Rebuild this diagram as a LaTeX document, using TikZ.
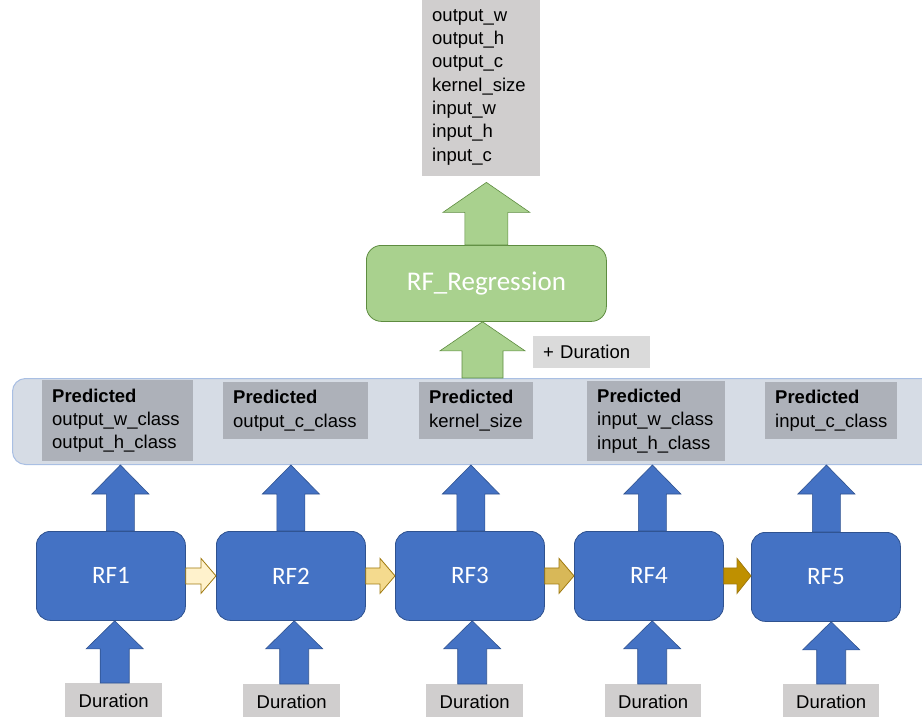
\documentclass[tikz,border=0pt]{standalone}
\usepackage{fontspec}
\setmainfont{Liberation Sans}
\newfontfamily\calfont{Carlito}
\usetikzlibrary{calc}

\definecolor{rfblue}{HTML}{4472C4}
\definecolor{rfblueline}{HTML}{2F528F}
\definecolor{reggreen}{HTML}{A9D18E}
\definecolor{reggreenline}{HTML}{5E8C40}
\definecolor{boxgray}{HTML}{D0CECE}
\definecolor{lightgray}{HTML}{DADADA}
\definecolor{predgray}{HTML}{ADB1B9}
\definecolor{bandfill}{HTML}{D6DCE5}
\definecolor{bandline}{HTML}{A9BFE3}
\definecolor{goldA}{HTML}{FFF2CC}
\definecolor{goldB}{HTML}{F4DA8E}
\definecolor{goldC}{HTML}{D8B858}
\definecolor{goldD}{HTML}{BF9000}
\definecolor{goldline}{HTML}{A07A10}

\tikzset{
  txt/.style={font=\fontsize{18.5}{23.3}\selectfont, text=black},
  rfbox/.style={draw=rfblueline, fill=rfblue, line width=0.8pt, rounded corners=14pt,
    minimum width=149pt, minimum height=89pt, inner sep=0pt, anchor=north west,
    text=white, font=\calfont\fontsize{25}{29}\selectfont},
  regbox/.style={draw=reggreenline, fill=reggreen, line width=0.8pt, rounded corners=15pt,
    minimum width=240pt, minimum height=76pt, inner sep=0pt, anchor=north west,
    text=white, font=\calfont\fontsize{27}{31}\selectfont},
  graybox/.style={txt, fill=boxgray, inner sep=0pt, anchor=north west},
  predbox/.style={txt, fill=predgray, inner ysep=0pt, inner xsep=10pt, anchor=north west, align=left},
  band/.style={draw=bandline, fill=bandfill, line width=1pt, rounded corners=13pt,
    minimum width=940pt, minimum height=86pt, inner sep=0pt, anchor=north west},
  bluearrow/.style={draw=rfblueline, fill=rfblue, line width=0.6pt, line join=miter},
  greenarrow/.style={draw=reggreenline, fill=reggreen, line width=0.6pt, line join=miter},
  goldarrow/.style={draw=goldline, fill=#1, line width=0.8pt, line join=miter},
}

% vertical block arrow: style, base point, target point (only its y is used),
% shaft half width, head half width, head length
\newcommand\upblock[6]{%
  \draw[#1] let \p1=(#2), \p2=(#3) in
    (\x1-#4,\y1) -- (\x1-#4,\y2-#6) -- (\x1-#5,\y2-#6) -- (\x1,\y2)
    -- (\x1+#5,\y2-#6) -- (\x1+#4,\y2-#6) -- (\x1+#4,\y1) -- cycle;}
% horizontal block arrow from one node's east side to the next node's west side
\newcommand\rightblock[6]{%
  \draw[#1] let \p1=(#2), \p2=(#3) in
    (\x1,\y1+#4) -- (\x2-#6,\y1+#4) -- (\x2-#6,\y1+#5) -- (\x2,\y1)
    -- (\x2-#6,\y1-#5) -- (\x2-#6,\y1-#4) -- (\x1,\y1-#4) -- cycle;}

\begin{document}
\begin{tikzpicture}[x=1pt,y=-1pt]
\useasboundingbox (0,0) rectangle (922,717);
\clip (0,0) rectangle (922,717);

% output parameters
\node[graybox, minimum width=118pt, minimum height=178pt, text width=98pt, inner xsep=10pt, align=left]
  (out) at (422,-2) {output\_w\\output\_h\\output\_c\\kernel\_size\\input\_w\\input\_h\\input\_c};

% regression stage
\node[regbox] (reg) at (366,245) {RF\_Regression};
\node[graybox, fill=lightgray, minimum width=117pt, minimum height=32pt, inner xsep=10pt, text width=97pt, align=left]
  (plusdur) at (533,336) {+ Duration};

% band of predicted values
\node[band] (band) at (12,378) {};
\node[predbox, text width=131pt, minimum height=81pt] (p1) at (42,380)
  {\textbf{Predicted}\\output\_w\_class\\output\_h\_class};
\node[predbox, text width=125pt, minimum height=57pt] (p2) at (223,382)
  {\textbf{Predicted}\\output\_c\_class};
\node[predbox, text width=94pt, minimum height=57pt] (p3) at (419,382)
  {\textbf{Predicted}\\kernel\_size};
\node[predbox, text width=118pt, minimum height=80pt] (p4) at (587,381)
  {\textbf{Predicted}\\input\_w\_class\\input\_h\_class};
\node[predbox, text width=112pt, minimum height=57pt] (p5) at (765,382)
  {\textbf{Predicted}\\input\_c\_class};

% classifier chain
\node[rfbox] (rf1) at (36,531) {RF1};
\node[rfbox] (rf2) at (216,531) {RF2};
\node[rfbox] (rf3) at (395,531) {RF3};
\node[rfbox] (rf4) at (574,531) {RF4};
\node[rfbox] (rf5) at (751,532) {RF5};

% duration inputs
\node[graybox, minimum width=97pt, minimum height=36pt] (d1) at (65,683) {Duration};
\node[graybox, minimum width=97pt, minimum height=36pt] (d2) at (243,684) {Duration};
\node[graybox, minimum width=97pt, minimum height=36pt] (d3) at (426,684) {Duration};
\node[graybox, minimum width=96pt, minimum height=36pt] (d4) at (605,684) {Duration};
\node[graybox, minimum width=96pt, minimum height=36pt] (d5) at (783,684) {Duration};

% green arrows
\upblock{greenarrow}{band.north}{reg.south}{20.5pt}{42.5pt}{29pt}
\upblock{greenarrow}{reg.north}{[yshift=-6pt]out.south}{21.5pt}{43.5pt}{30pt}

% blue arrows into the band
\upblock{bluearrow}{[xshift=9.5pt]rf1.north}{band.south}{14pt}{28.5pt}{29pt}
\upblock{bluearrow}{rf2.north}{band.south}{14pt}{28.5pt}{29pt}
\upblock{bluearrow}{[xshift=1pt]rf3.north}{band.south}{14pt}{28.5pt}{29pt}
\upblock{bluearrow}{[xshift=3.5pt]rf4.north}{band.south}{14pt}{28.5pt}{29pt}
\upblock{bluearrow}{[xshift=0.5pt]rf5.north}{band.south}{14pt}{28.5pt}{29pt}

% blue arrows from the duration inputs
\upblock{bluearrow}{[xshift=1pt]d1.north}{rf1.south}{14.5pt}{28.5pt}{28pt}
\upblock{bluearrow}{[xshift=2.5pt]d2.north}{rf2.south}{14.5pt}{28.5pt}{28pt}
\upblock{bluearrow}{[xshift=-2.5pt]d3.north}{rf3.south}{14.5pt}{28.5pt}{28pt}
\upblock{bluearrow}{[xshift=-1pt]d4.north}{rf4.south}{14.5pt}{28.5pt}{28pt}
\upblock{bluearrow}{d5.north}{rf5.south}{14.5pt}{28.5pt}{28pt}

% gold arrows along the chain
\rightblock{goldarrow=goldA}{rf1.east}{rf2.west}{8pt}{17.5pt}{15pt}
\rightblock{goldarrow=goldB}{rf2.east}{rf3.west}{8pt}{17.5pt}{15pt}
\rightblock{goldarrow=goldC}{rf3.east}{rf4.west}{8pt}{17.5pt}{15pt}
\rightblock{goldarrow=goldD}{rf4.east}{rf5.west}{8pt}{17.5pt}{14pt}
\end{tikzpicture}
\end{document}
